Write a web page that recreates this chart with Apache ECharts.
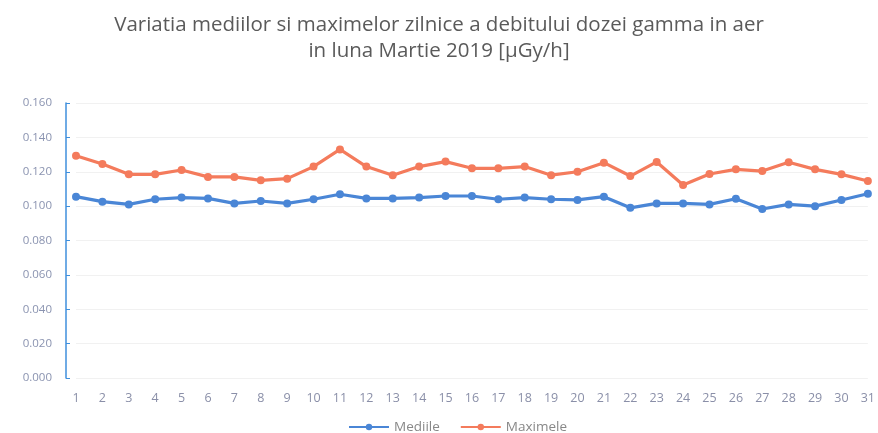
<!DOCTYPE html>
<html>
<head>
<meta charset="utf-8">
<script src="https://cdn.jsdelivr.net/npm/echarts@6/dist/echarts.min.js"></script>
<style>
  html, body { margin: 0; padding: 0; background: #fff; }
  #main { width: 878px; height: 433px; }
</style>
</head>
<body>
<div id="main"></div>
<script>
// zilele lunii
var days = [];
for (var d = 1; d <= 31; d++) days.push(String(d));

// valori [µGy/h]
var mediile = [0.1055, 0.1026, 0.101, 0.104, 0.105, 0.1045, 0.1016, 0.103, 0.1016, 0.104,
  0.1069, 0.1045, 0.1045, 0.105, 0.1059, 0.1059, 0.104, 0.105, 0.104, 0.1036,
  0.1055, 0.099, 0.1016, 0.1016, 0.101, 0.1043, 0.0983, 0.101, 0.100, 0.1036, 0.1072];
var maximele = [0.1293, 0.1245, 0.1185, 0.1185, 0.121, 0.117, 0.117, 0.115, 0.116, 0.123,
  0.133, 0.123, 0.118, 0.123, 0.1259, 0.122, 0.122, 0.123, 0.118, 0.120,
  0.1253, 0.1175, 0.1257, 0.1123, 0.1187, 0.1214, 0.1204, 0.1255, 0.1214, 0.1185, 0.1146];

var chart = echarts.init(document.getElementById('main'));

chart.setOption({
  animation: false,
  title: {
    text: 'Variatia mediilor si maximelor zilnice a debitului dozei gamma in aer\nin luna Martie 2019 [µGy/h]',
    left: 'center',
    top: 7,
    textStyle: {
      fontFamily: 'Open Sans',
      fontWeight: 'normal',
      fontSize: 20.5,
      color: '#5a5a5a',
      lineHeight: 26
    }
  },
  legend: {
    bottom: -6,
    left: 343,
    itemWidth: 40,
    itemHeight: 8,
    itemGap: 20,
    textStyle: { color: '#888', fontSize: 13.5, fontFamily: 'Open Sans' },
    data: ['Mediile', 'Maximele']
  },
  grid: { left: 76, right: 8, top: 103, bottom: 55 },
  xAxis: {
    type: 'category',
    data: days,
    boundaryGap: false,
    axisLine: { show: false },
    axisTick: { show: false },
    axisLabel: { color: '#8a8fa8', fontSize: 12.5, margin: 14, fontFamily: 'Open Sans' }
  },
  yAxis: {
    type: 'value',
    min: 0,
    max: 0.16,
    interval: 0.02,
    offset: 10,
    axisLine: { show: true, lineStyle: { color: '#3f8fdc', width: 1.5 } },
    axisTick: { show: true, inside: true, length: 4, lineStyle: { color: '#3f8fdc' } },
    axisLabel: {
      color: '#8a93b0',
      fontSize: 11.5,
      margin: 14,
      fontFamily: 'Open Sans',
      formatter: function (v) { return v.toFixed(3); }
    },
    splitLine: { show: true, lineStyle: { color: '#f1f1f1' } }
  },
  series: [
    {
      name: 'Mediile',
      type: 'line',
      data: mediile,
      symbol: 'circle',
      symbolSize: 8,
      lineStyle: { width: 3.2, color: '#4a86d6' },
      itemStyle: { color: '#4a86d6' }
    },
    {
      name: 'Maximele',
      type: 'line',
      data: maximele,
      symbol: 'circle',
      symbolSize: 8,
      lineStyle: { width: 3.2, color: '#f47b5c' },
      itemStyle: { color: '#f47b5c' }
    }
  ]
});
</script>
</body>
</html>
